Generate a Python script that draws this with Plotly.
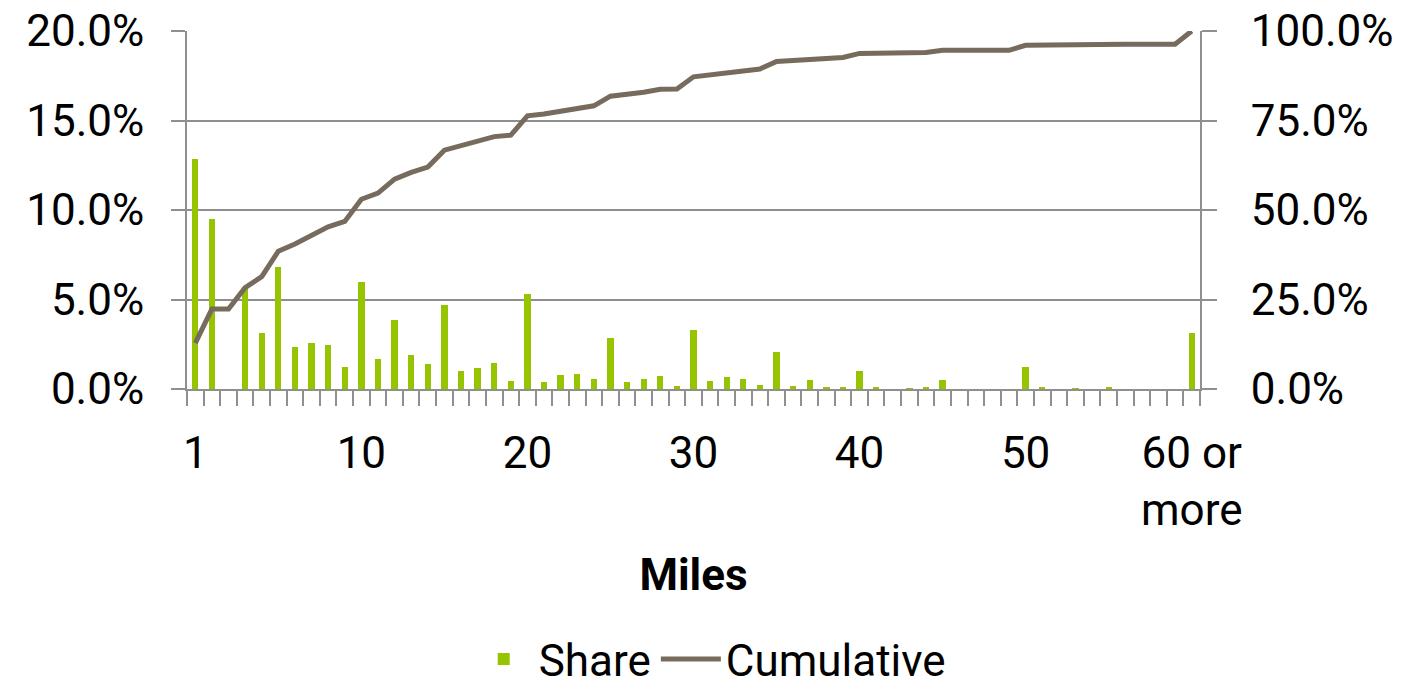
import plotly.graph_objects as go

# Category positions (index of each mileage bin) and tick labels
bins = list(range(61))
tick_positions = [0, 10, 20, 30, 40, 50, 60]
tick_labels = ["1", "10", "20", "30", "40", "50", "60 or<br>more"]

# Share of trips per mileage bin (%)
share = [12.85, 9.50, 0.00, 5.70, 3.12, 6.83, 2.32, 2.56, 2.45, 1.25,
         6.00, 1.68, 3.85, 1.90, 1.38, 4.71, 1.03, 1.16, 1.46, 0.45,
         5.33, 0.37, 0.80, 0.84, 0.54, 2.84, 0.37, 0.54, 0.71, 0.17,
         3.32, 0.43, 0.65, 0.56, 0.22, 2.04, 0.17, 0.49, 0.13, 0.09,
         1.03, 0.13, 0.00, 0.05, 0.09, 0.49, 0.00, 0.00, 0.00, 0.00,
         1.25, 0.09, 0.00, 0.05, 0.00, 0.09, 0.00, 0.00, 0.00, 0.00,
         3.12]

# Cumulative share (%)
cumulative = [12.8, 22.35, 22.35, 28.3, 31.4, 38.5, 40.5, 43.0, 45.3, 46.8,
              53.0, 54.7, 58.6, 60.5, 62.0, 66.7, 68.0, 69.2, 70.5, 70.9,
              76.3, 76.8, 77.65, 78.5, 79.1, 81.8, 82.3, 82.9, 83.7, 83.8,
              87.2, 87.7, 88.2, 88.8, 89.4, 91.5, 91.7, 92.2, 92.4, 92.6,
              93.75, 93.8, 93.9, 93.9, 94.0, 94.6, 94.6, 94.6, 94.6, 94.6,
              96.0, 96.1, 96.2, 96.2, 96.2, 96.3, 96.3, 96.3, 96.3, 96.3,
              100.0]

GREEN = "#97c400"
LINE = "#766b5d"
GRID = "#8f8f8f"
FONT = "Roboto"
FS = 44

fig = go.Figure()
fig.add_trace(go.Bar(
    x=bins, y=[v / 100 for v in share], name="Share",
    marker=dict(color=GREEN, line=dict(width=0)), width=0.38,
))
fig.add_trace(go.Scatter(
    x=bins, y=[v / 100 for v in cumulative], name="Cumulative",
    mode="lines", line=dict(color=LINE, width=5), yaxis="y2",
))

fig.update_layout(
    width=1408, height=693,
    margin=dict(l=187, r=208, t=31, b=304, autoexpand=False),
    paper_bgcolor="white", plot_bgcolor="white",
    font=dict(family=FONT, size=FS, color="black"),
    showlegend=True,
    legend=dict(orientation="h", x=0.516, xanchor="center", y=-0.755, yanchor="middle",
                font=dict(size=FS), itemwidth=60, traceorder="normal"),
    bargap=0,
    xaxis=dict(
        range=[-0.5, 60.5], tickmode="array", tickvals=tick_positions, ticktext=tick_labels,
        ticks="", showgrid=False, zeroline=False, automargin=False,
        showline=True, linecolor=GRID, linewidth=2,
        ticklabelstandoff=24, ticklabeloverflow="allow",
        minor=dict(tickmode="linear", tick0=-0.5, dtick=1, ticks="outside", ticklen=15,
                   tickwidth=2, tickcolor=GRID, showgrid=False),
        title=dict(text="<b>Miles</b>", font=dict(size=FS), standoff=24),
    ),
    yaxis=dict(
        range=[0, 0.2], tickmode="linear", tick0=0, dtick=0.05, tickformat=".1%",
        showgrid=True, gridcolor=GRID, gridwidth=2, zeroline=False, automargin=False,
        showline=True, linecolor=GRID, linewidth=2,
        ticks="outside", ticklen=14, tickwidth=2, tickcolor=GRID,
        ticklabelstandoff=18, ticklabeloverflow="allow",
    ),
    yaxis2=dict(
        range=[0, 1], tickmode="linear", tick0=0, dtick=0.25, tickformat=".1%",
        overlaying="y", side="right", showgrid=False, zeroline=False, automargin=False,
        showline=True, linecolor=GRID, linewidth=2,
        ticks="outside", ticklen=15, tickwidth=2, tickcolor=GRID,
        ticklabelstandoff=25, ticklabeloverflow="allow",
    ),
)

fig.write_html("out.html", config={"displayModeBar": False},
               post_script="document.body.style.margin='0';")
